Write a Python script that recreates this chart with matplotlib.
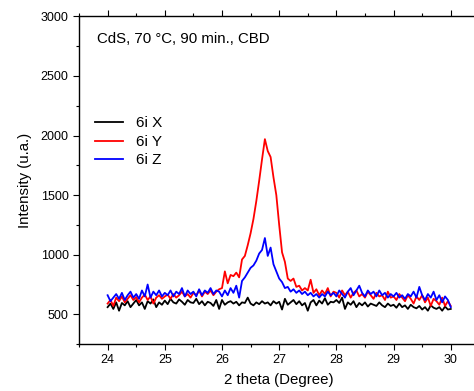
import matplotlib
matplotlib.use("Agg")
import matplotlib.pyplot as plt
import numpy as np
from matplotlib.ticker import MultipleLocator

plt.rcParams["font.family"] = ["Liberation Sans", "DejaVu Sans"]

# 2 theta grid, 0.05 degree steps from 24 to 30
two_theta = np.round(np.arange(24.0, 30.0001, 0.05), 2)

x_counts = [
    560, 590, 545, 600, 530, 595, 575, 610, 560, 590, 620, 575, 600, 545, 610, 590, 625, 560, 600, 580,
    615, 585, 630, 600, 590, 625, 605, 580, 620, 600, 595, 630, 585, 610, 575, 605, 595, 570, 620, 545,
    620, 580, 600, 610, 590, 605, 575, 600, 595, 640, 590, 575, 600, 585, 610, 590, 600, 575, 610, 590,
    605, 540, 630, 580, 600, 620, 585, 610, 575, 595, 530, 600, 620, 575, 615, 590, 635, 580, 605, 600,
    620, 595, 640, 545, 600, 580, 610, 560, 595, 575, 600, 565, 590, 580, 570, 600, 575, 560, 590, 570,
    580, 555, 590, 560, 575, 545, 580, 560, 550, 570, 540, 560, 530, 575, 555, 545, 560, 530, 565, 540,
    545,
]

y_counts = [
    590, 620, 570, 640, 610, 650, 600, 630, 660, 620, 645, 600, 640, 665, 620, 650, 590, 640, 660, 630,
    650, 665, 630, 670, 640, 660, 690, 650, 670, 640, 680, 660, 700, 650, 690, 670, 700, 660, 690, 710,
    720, 860, 760, 830, 820, 850, 810, 960, 990, 1080, 1180, 1300, 1450, 1620, 1800, 1970, 1870, 1820, 1650, 1500,
    1250, 1020, 940, 800, 780, 800, 730, 740, 700, 720, 700, 790, 680, 710, 660, 700, 670, 720, 650, 690,
    680, 640, 700, 660, 690, 640, 680, 700, 650, 670, 640, 690, 660, 630, 680, 650, 660, 620, 690, 640,
    650, 620, 670, 640, 610, 660, 630, 590, 650, 620, 660, 600, 640, 570, 630, 610, 580, 640, 570, 610,
    570,
]

z_counts = [
    660, 610, 640, 670, 630, 680, 620, 660, 690, 640, 670, 630, 700, 650, 750, 640, 690, 660, 700, 650,
    680, 660, 700, 650, 690, 670, 720, 650, 700, 670, 690, 650, 710, 660, 700, 680, 720, 670, 700, 690,
    650, 700, 660, 720, 680, 740, 640, 780, 810, 850, 890, 910, 950, 1010, 1040, 1140, 990, 1060, 920, 860,
    800, 770, 720, 730, 690, 710, 680, 700, 670, 690, 660, 680, 650, 670, 640, 670, 650, 690, 660, 680,
    650, 700, 670, 640, 690, 720, 660, 700, 740, 680, 650, 700, 670, 690, 650, 700, 660, 680, 640, 670,
    650, 680, 640, 660, 630, 670, 650, 690, 640, 730, 660, 620, 670, 640, 690, 620, 660, 600, 650, 620,
    560,
]

series = [("6i X", x_counts, "black"), ("6i Y", y_counts, "red"), ("6i Z", z_counts, "blue")]

fig = plt.figure(figsize=(4.74, 3.91), dpi=100)
ax = fig.add_axes([0.1667, 0.120, 0.8446, 0.838])

for label, counts, color in series:
    ax.plot(two_theta, counts, color=color, lw=1.3, label=label)

ax.set_xlim(23.5, 30.5)
ax.set_ylim(250, 3000)
ax.xaxis.set_major_locator(MultipleLocator(1))
ax.xaxis.set_minor_locator(MultipleLocator(0.5))
ax.yaxis.set_minor_locator(MultipleLocator(250))
ax.set_yticks([500, 1000, 1500, 2000, 2500, 3000])
ax.tick_params(which="major", direction="out", length=4, width=0.8, labelsize=9)
ax.tick_params(which="minor", direction="out", length=2.5, width=0.8)
ax.tick_params(top=True, which="both", direction="out")
for s in ax.spines.values():
    s.set_linewidth(1.0)

ax.set_xlabel("2 theta (Degree)", fontsize=10.8, labelpad=5)
ax.set_ylabel("Intensity (u.a.)", fontsize=10.8, labelpad=6)

ax.text(0.045, 0.93, "CdS, 70 \u00b0C, 90 min., CBD", transform=ax.transAxes,
        fontsize=10.8, va="center", ha="left")

ax.legend(loc="center left", bbox_to_anchor=(0.025, 0.617), frameon=False,
          fontsize=11, handlelength=1.85, handletextpad=0.8, labelspacing=0.3,
          borderaxespad=0)

fig.savefig("out.png", dpi=100)
